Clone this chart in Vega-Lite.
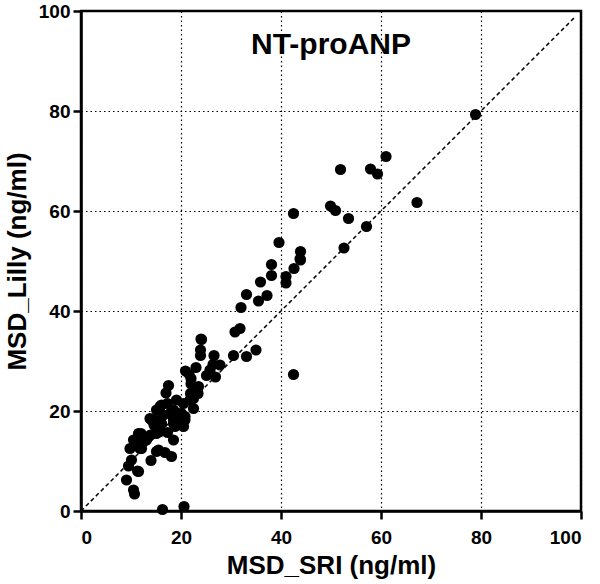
{
  "$schema": "https://vega.github.io/schema/vega-lite/v6.json",
  "width": 500,
  "height": 500,
  "autosize": "none",
  "padding": {"left": 81, "top": 11, "right": 19, "bottom": 73},
  "background": "white",
  "config": {
    "view": {"stroke": "black", "strokeWidth": 2.5},
    "font": "Liberation Sans"
  },
  "title": {"text": "NT-proANP", "fontSize": 30, "font": "Liberation Sans", "fontWeight": "bold", "color": "black", "anchor": "middle", "baseline": "top", "offset": -58},
  "datasets": {
    "pts": [
      {"sri": 78.9, "lilly": 79.3}, {"sri": 67.2, "lilly": 61.7}, {"sri": 61.0, "lilly": 70.9}, {"sri": 59.3, "lilly": 67.4},
      {"sri": 57.9, "lilly": 68.4}, {"sri": 51.9, "lilly": 68.3}, {"sri": 57.1, "lilly": 56.9}, {"sri": 53.5, "lilly": 58.5},
      {"sri": 52.6, "lilly": 52.6}, {"sri": 50.9, "lilly": 60.1}, {"sri": 49.9, "lilly": 61.0}, {"sri": 42.5, "lilly": 59.5},
      {"sri": 43.9, "lilly": 51.9}, {"sri": 43.9, "lilly": 50.2}, {"sri": 42.6, "lilly": 48.5}, {"sri": 39.6, "lilly": 53.7},
      {"sri": 41.0, "lilly": 46.9}, {"sri": 41.0, "lilly": 45.6}, {"sri": 38.1, "lilly": 49.3}, {"sri": 38.1, "lilly": 47.1},
      {"sri": 37.2, "lilly": 43.1}, {"sri": 35.9, "lilly": 45.8}, {"sri": 35.5, "lilly": 42.0}, {"sri": 33.1, "lilly": 43.3},
      {"sri": 32.0, "lilly": 40.7}, {"sri": 42.5, "lilly": 27.3}, {"sri": 35.0, "lilly": 32.2}, {"sri": 33.1, "lilly": 30.9},
      {"sri": 31.8, "lilly": 36.5}, {"sri": 30.8, "lilly": 35.8}, {"sri": 30.5, "lilly": 31.1}, {"sri": 26.6, "lilly": 31.1},
      {"sri": 24.0, "lilly": 34.4}, {"sri": 23.9, "lilly": 32.2}, {"sri": 23.9, "lilly": 31.1}, {"sri": 27.8, "lilly": 29.2},
      {"sri": 26.4, "lilly": 29.3}, {"sri": 25.8, "lilly": 28.2}, {"sri": 26.9, "lilly": 26.8}, {"sri": 25.1, "lilly": 27.1},
      {"sri": 23.0, "lilly": 28.7}, {"sri": 20.9, "lilly": 28.0}, {"sri": 22.0, "lilly": 26.5}, {"sri": 22.0, "lilly": 25.4},
      {"sri": 21.9, "lilly": 23.5}, {"sri": 23.4, "lilly": 23.5}, {"sri": 22.5, "lilly": 22.5}, {"sri": 17.5, "lilly": 25.1},
      {"sri": 17.0, "lilly": 23.6}, {"sri": 22.5, "lilly": 20.5}, {"sri": 20.8, "lilly": 18.2}, {"sri": 20.5, "lilly": 16.9},
      {"sri": 18.5, "lilly": 17.5}, {"sri": 19.5, "lilly": 19.5}, {"sri": 17.3, "lilly": 21.5}, {"sri": 16.1, "lilly": 21.2},
      {"sri": 15.1, "lilly": 20.2}, {"sri": 13.8, "lilly": 18.5}, {"sri": 14.6, "lilly": 17.2}, {"sri": 16.5, "lilly": 19.2},
      {"sri": 17.8, "lilly": 19.5}, {"sri": 18.5, "lilly": 18.2}, {"sri": 18.8, "lilly": 16.9}, {"sri": 19.8, "lilly": 17.9},
      {"sri": 20.8, "lilly": 18.9}, {"sri": 12.0, "lilly": 15.5}, {"sri": 10.5, "lilly": 14.2}, {"sri": 9.8, "lilly": 12.5},
      {"sri": 11.5, "lilly": 13.5}, {"sri": 12.1, "lilly": 12.5}, {"sri": 13.1, "lilly": 14.2}, {"sri": 13.9, "lilly": 15.2},
      {"sri": 15.8, "lilly": 15.9}, {"sri": 17.3, "lilly": 15.7}, {"sri": 18.5, "lilly": 14.2}, {"sri": 15.5, "lilly": 12.2},
      {"sri": 16.8, "lilly": 11.7}, {"sri": 18.1, "lilly": 10.9}, {"sri": 14.0, "lilly": 10.1}, {"sri": 10.1, "lilly": 10.2},
      {"sri": 9.5, "lilly": 9.0}, {"sri": 11.5, "lilly": 7.9}, {"sri": 9.1, "lilly": 6.2}, {"sri": 10.5, "lilly": 4.2},
      {"sri": 10.7, "lilly": 3.4}, {"sri": 16.3, "lilly": 0.3}, {"sri": 20.6, "lilly": 0.9}, {"sri": 23.5, "lilly": 24.9},
      {"sri": 21.8, "lilly": 22.2}, {"sri": 20.5, "lilly": 21.5}, {"sri": 19.1, "lilly": 22.2}, {"sri": 18.5, "lilly": 20.2},
      {"sri": 20.1, "lilly": 19.5}, {"sri": 14.8, "lilly": 18.2}, {"sri": 16.1, "lilly": 17.5}, {"sri": 15.5, "lilly": 16.5},
      {"sri": 15.8, "lilly": 20.9}, {"sri": 14.1, "lilly": 18.2}, {"sri": 15.1, "lilly": 15.5}, {"sri": 11.5, "lilly": 15.5},
      {"sri": 11.8, "lilly": 12.5}, {"sri": 15.1, "lilly": 11.9}, {"sri": 11.3, "lilly": 8.0}, {"sri": 21.6, "lilly": 27.4},
      {"sri": 24.1, "lilly": 34.3}, {"sri": 43.8, "lilly": 50.4}
    ],
    "diag": [{"a": 0, "b": 0, "a2": 99, "b2": 99}]
  },
  "layer": [
    {
      "data": {"name": "diag"},
      "mark": {"type": "rule", "color": "black", "strokeWidth": 1.5, "strokeDash": [4, 3]},
      "encoding": {
        "x": {"field": "a", "type": "quantitative"},
        "y": {"field": "b", "type": "quantitative"},
        "x2": {"field": "a2"},
        "y2": {"field": "b2"}
      }
    },
    {
      "data": {"name": "pts"},
      "mark": {"type": "circle", "color": "black", "opacity": 1, "size": 125},
      "encoding": {
        "x": {
          "field": "sri", "type": "quantitative",
          "scale": {"domain": [0, 100], "nice": false},
          "axis": {
            "title": "MSD_SRI (ng/ml)", "values": [0, 20, 40, 60, 80, 100],
            "grid": true, "gridColor": "black", "gridDash": [1.5, 3], "gridWidth": 1.2, "gridOpacity": 1,
            "domainColor": "black", "domainWidth": 2.5,
            "tickColor": "black", "tickWidth": 2.5, "tickSize": 8,
            "labelFontSize": 19, "labelFontWeight": "bold", "labelColor": "black", "labelPadding": 9, "labelFont": "Liberation Sans",
            "titleFontSize": 26, "titleFontWeight": "bold", "titleColor": "black", "titlePadding": 5, "titleFont": "Liberation Sans"
          }
        },
        "y": {
          "field": "lilly", "type": "quantitative",
          "scale": {"domain": [0, 100], "nice": false},
          "axis": {
            "title": "MSD_Lilly (ng/ml)", "values": [0, 20, 40, 60, 80, 100],
            "grid": true, "gridColor": "black", "gridDash": [1.5, 3], "gridWidth": 1.2, "gridOpacity": 1,
            "domainColor": "black", "domainWidth": 2.5,
            "tickColor": "black", "tickWidth": 2.5, "tickSize": 8,
            "labelFontSize": 19, "labelFontWeight": "bold", "labelColor": "black", "labelPadding": 3, "labelFont": "Liberation Sans",
            "titleFontSize": 26, "titleFontWeight": "bold", "titleColor": "black", "titlePadding": 8, "titleFont": "Liberation Sans"
          }
        }
      }
    }
  ]
}
